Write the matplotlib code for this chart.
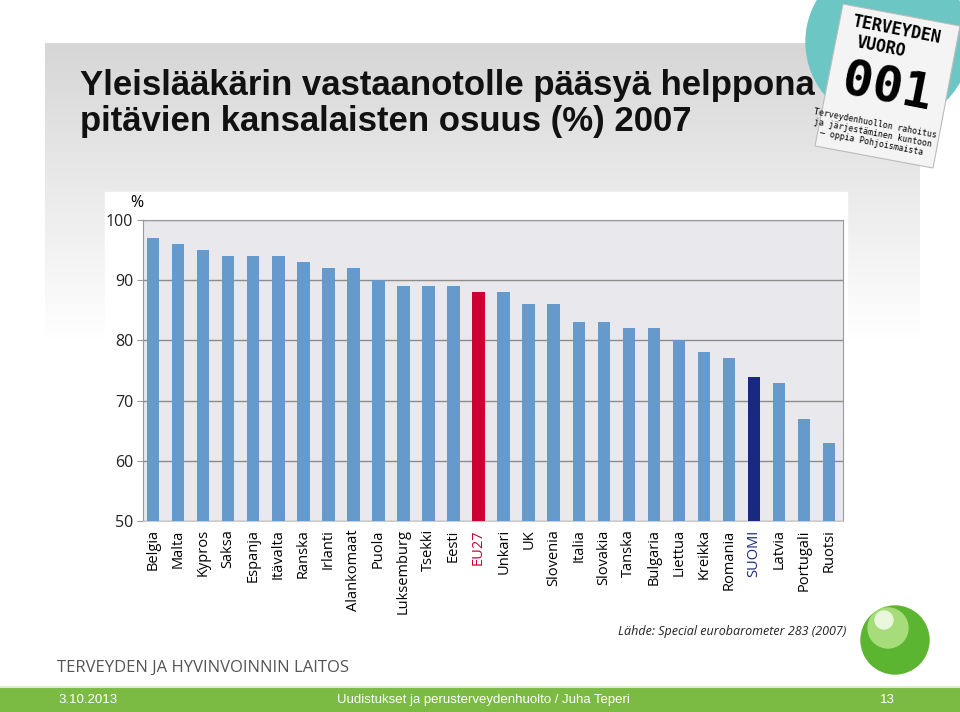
import numpy as np
import matplotlib
matplotlib.use('Agg')
import matplotlib.pyplot as plt
from matplotlib.patches import Rectangle, Circle, Polygon

countries = ['Belgia', 'Malta', 'Kypros', 'Saksa', 'Espanja', 'Itävalta', 'Ranska',
             'Irlanti', 'Alankomaat', 'Puola', 'Luksemburg', 'Tsekki', 'Eesti', 'EU27',
             'Unkari', 'UK', 'Slovenia', 'Italia', 'Slovakia', 'Tanska', 'Bulgaria',
             'Liettua', 'Kreikka', 'Romania', 'SUOMI', 'Latvia', 'Portugali', 'Ruotsi']
values = [97, 96, 95, 94, 94, 94, 93, 92, 92, 90, 89, 89, 89, 88,
          88, 86, 86, 83, 83, 82, 82, 80, 78, 77, 74, 73, 67, 63]
yticks = [50, 60, 70, 80, 90, 100]

BLUE = '#6699cc'
RED = '#cc0033'
NAVY = '#172a7f'

fig = plt.figure(figsize=(9.6, 7.12), dpi=100)

# background layer in pixel coordinates
bg = fig.add_axes([0, 0, 1, 1], zorder=-10)
bg.set_xlim(0, 960)
bg.set_ylim(712, 0)
bg.axis('off')

grad = np.linspace(0, 1, 256).reshape(-1, 1)
bg.imshow(grad, cmap=matplotlib.colors.LinearSegmentedColormap.from_list(
    'g', ['#d6d6d6', '#ffffff']), extent=(45, 920, 340, 43), aspect='auto', zorder=0)
bg.add_patch(Rectangle((105, 192), 742, 420, color='white', zorder=1))

# logo circle and card
bg.add_patch(Circle((888, 42), 82, color='#6cc6c4', zorder=2))
card = Polygon([(843, 4), (960, 26), (933, 168), (815, 146)], closed=True,
               facecolor='#f4f4f4', edgecolor='#bbbbbb', lw=0.8, zorder=3)
bg.add_patch(card)
rot = -11
bg.text(896, 30, 'TERVEYDEN', fontsize=12, fontweight='bold', family='DejaVu Sans Mono',
        ha='center', va='center', rotation=rot, zorder=4)
bg.text(881, 47, 'VUORO', fontsize=12, fontweight='bold', family='DejaVu Sans Mono',
        ha='center', va='center', rotation=rot, zorder=4)
bg.text(887, 88, '001', fontsize=36, fontweight='bold', family='DejaVu Sans Mono',
        ha='center', va='center', rotation=rot, zorder=4)
bg.text(873, 133, 'Terveydenhuollon rahoitus\nja järjestäminen kuntoon\n– oppia Pohjoismaista',
        fontsize=6, family='DejaVu Sans Mono', ha='center', va='center',
        rotation=rot, linespacing=1.1, zorder=4)

# green ball
bg.add_patch(Circle((895, 640), 34, color='#5cb531', zorder=2))
bg.add_patch(Circle((888, 628), 20, color='#a6dd7a', zorder=3))
bg.add_patch(Circle((884, 620), 9, color='#e9f7dc', zorder=4))

# footer
bg.add_patch(Rectangle((0, 688), 960, 24, color='#7bbb44', zorder=2))
bg.plot([0, 960], [687, 687], color='#dfeecf', lw=1.5, zorder=2)
fig.text(58 / 960, 1 - 700 / 712, '3.10.2013', color='white', fontsize=9.5,
         family='Liberation Sans', va='center', ha='left')
fig.text(483 / 960, 1 - 700 / 712, 'Uudistukset ja perusterveydenhuolto / Juha Teperi',
         color='white', fontsize=9.5, family='Liberation Sans', va='center', ha='center')
fig.text(887 / 960, 1 - 700 / 712, '13', color='white', fontsize=9.5,
         family='Liberation Sans', va='center', ha='center')
fig.text(57 / 960, 1 - 668 / 712, 'TERVEYDEN JA HYVINVOINNIN LAITOS', color='#555555',
         fontsize=12, family='Open Sans', va='center', ha='left')

# title
fig.text(80 / 960, 1 - 95 / 712, 'Yleislääkärin vastaanotolle pääsyä helppona',
         fontsize=25, family='Liberation Sans', fontweight='bold',
         va='baseline', ha='left', color='#111111')
fig.text(80 / 960, 1 - 131 / 712, 'pitävien kansalaisten osuus (%) 2007',
         fontsize=25, family='Liberation Sans', fontweight='bold',
         va='baseline', ha='left', color='#111111')

# chart
ax = fig.add_axes([143 / 960, 191 / 712, 700 / 960, 301 / 712])
ax.set_facecolor('#e9e9ed')
x = np.arange(len(countries))
colors = [RED if c == 'EU27' else NAVY if c == 'SUOMI' else BLUE for c in countries]
ax.bar(x, [v - 50 for v in values], bottom=50, width=0.5, color=colors, zorder=3)
ax.set_xlim(-0.4, len(countries) - 0.45)
ax.set_ylim(50, 100)
ax.set_yticks(yticks)
ax.set_yticklabels([str(t) for t in yticks], fontsize=11.5, family='Open Sans', color='#222222')
ax.set_xticks(x)
ax.set_xticklabels(countries, rotation=90, fontsize=10.5, family='Open Sans')
for lbl, c in zip(ax.get_xticklabels(), colors):
    if c != BLUE:
        lbl.set_color(c)
ax.tick_params(axis='x', length=0, pad=6)
ax.tick_params(axis='y', length=4, pad=3, color='#9a9a9a')
ax.grid(axis='y', color='#8c8c8c', lw=1, zorder=1)
for s in ax.spines.values():
    s.set_color('#9a9a9a')
ax.spines['bottom'].set_color('#cccccc')
fig.text(137 / 960, 1 - 203 / 712, '%', fontsize=11.5, family='Open Sans', ha='center', va='center')

fig.text(846 / 960, 1 - 631 / 712, 'Lähde: Special eurobarometer 283 (2007)', fontsize=9,
         family='Open Sans', style='italic', ha='right', va='center', color='#222222')

plt.savefig('out.png', dpi=100)
